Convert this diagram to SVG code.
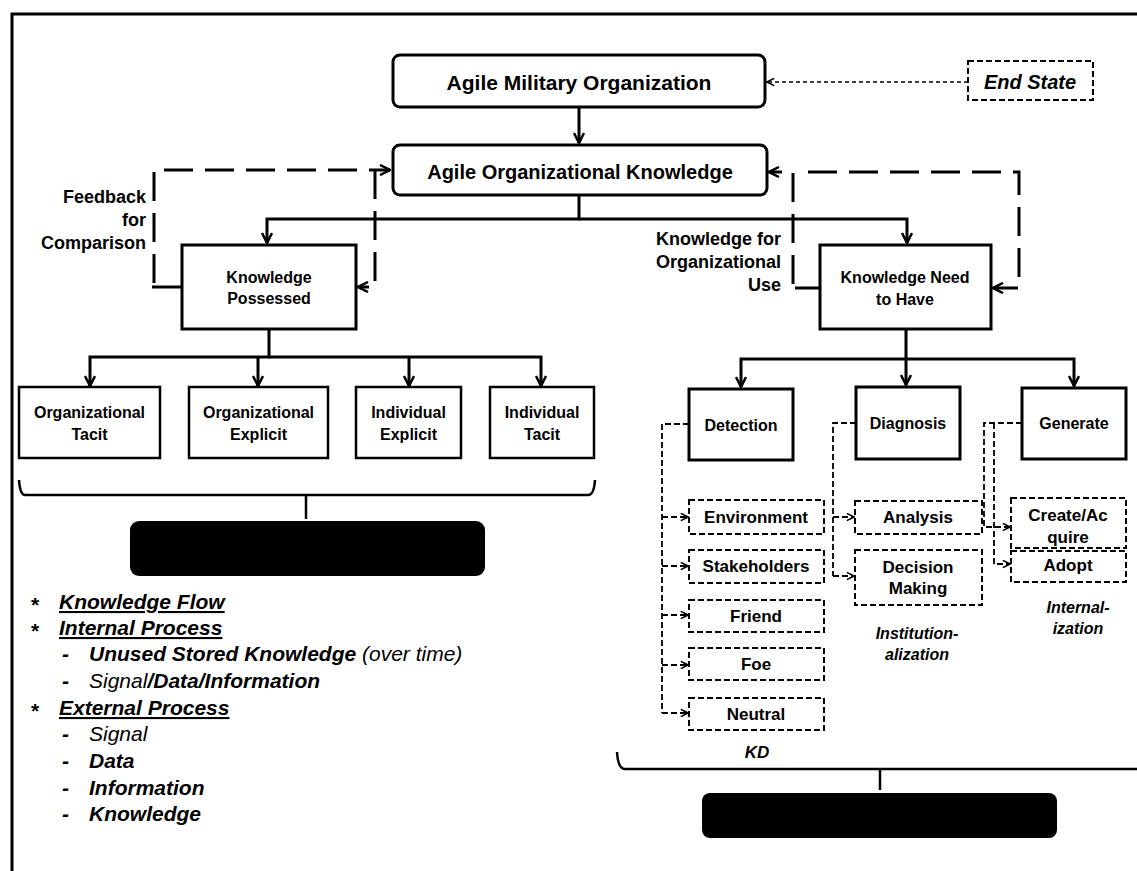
<svg xmlns="http://www.w3.org/2000/svg" width="1137" height="871" viewBox="0 0 1137 871">
<style>
text{font-family:"Liberation Sans",Arial,sans-serif;fill:#000}
.t{font-weight:bold;text-anchor:middle}
.h{font-size:21px;font-weight:bold}
.m{font-size:16px}
.s{font-size:17px}
.box{fill:#fff;stroke:#000;stroke-width:3}
.box2{fill:#fff;stroke:#000;stroke-width:2.5}
.dbox{fill:#fff;stroke:#000;stroke-width:2;stroke-dasharray:6 3}
.c{fill:none;stroke:#000;stroke-width:3}
.cd{fill:none;stroke:#000;stroke-width:3;stroke-dasharray:29 12}
.cs{fill:none;stroke:#000;stroke-width:1.8;stroke-dasharray:6 3}
.lab{font-size:18px;font-weight:bold;text-anchor:end}
.it{font-style:italic;font-weight:bold;text-anchor:middle}
.lg{font-size:21px;font-style:italic}
</style>
<defs>
<marker id="ah" viewBox="0 0 12 12" refX="11" refY="6" markerWidth="12" markerHeight="12" markerUnits="userSpaceOnUse" orient="auto"><path d="M1,1 L11,6 L1,11" fill="none" stroke="#000" stroke-width="2.5"/></marker>
<marker id="as" viewBox="0 0 10 10" refX="9" refY="5" markerWidth="9" markerHeight="9" markerUnits="userSpaceOnUse" orient="auto"><path d="M1,1 L9,5 L1,9" fill="none" stroke="#000" stroke-width="1.8"/></marker>
</defs>
<rect width="1137" height="871" fill="#fff"/>
<path d="M12,871 V14 H1137" fill="none" stroke="#000" stroke-width="3"/>

<g id="connectors">
<path class="c" d="M579,107 V143" marker-end="url(#ah)"/>
<path class="c" d="M579,195 V219 H267 V243" marker-end="url(#ah)"/>
<path class="c" d="M579,219 H907 V243" marker-end="url(#ah)"/>
<path class="c" d="M269,330 V357 H90 V386" marker-end="url(#ah)"/>
<path class="c" d="M269,357 H541 V386" marker-end="url(#ah)"/>
<path class="c" d="M258,357 V386" marker-end="url(#ah)"/>
<path class="c" d="M409,357 V386" marker-end="url(#ah)"/>
<path class="c" d="M906,328 V359 H741 V387" marker-end="url(#ah)"/>
<path class="c" d="M906,359 H1074 V386" marker-end="url(#ah)"/>
<path class="c" d="M906,359 V385" marker-end="url(#ah)"/>
<path fill="none" stroke="#000" stroke-width="1.5" stroke-dasharray="4 3" d="M968,82 H767" marker-end="url(#as)"/>
<path class="cd" d="M154,283 V170 H390" marker-end="url(#ah)"/>
<path class="c" stroke-width="2" d="M152,287 H182"/>
<path class="cd" d="M375,170 V287 H358" marker-end="url(#ah)"/>
<path class="cd" d="M793,284 V172 H769" marker-end="url(#ah)"/>
<path class="c" stroke-width="2" d="M795,288 H820"/>
<path class="cd" d="M808,172 H1019 V288 H993" marker-end="url(#ah)"/>
<path class="cs" d="M689,424 H662 V713"/>
<path class="cs" d="M662,517 H688" marker-end="url(#as)"/>
<path class="cs" d="M662,566 H688" marker-end="url(#as)"/>
<path class="cs" d="M662,615 H688" marker-end="url(#as)"/>
<path class="cs" d="M662,665 H688" marker-end="url(#as)"/>
<path class="cs" d="M662,713 H688" marker-end="url(#as)"/>
<path class="cs" d="M856,423 H833 V576"/>
<path class="cs" d="M833,517 H854" marker-end="url(#as)"/>
<path class="cs" d="M833,576 H854" marker-end="url(#as)"/>
<path class="cs" d="M1022,423 H984 V527 H1010" marker-end="url(#as)"/>
<path class="cs" d="M994,423 V564 H1010" marker-end="url(#as)"/>
<path fill="none" stroke="#000" stroke-width="2.5" d="M19,480 Q20,495 25,495 H588 Q594,495 595,480 M306,495 V519"/>
<path fill="none" stroke="#000" stroke-width="2.5" d="M617,752 Q618,769 625,769 H1137 M880,769 V790"/>
</g>

<g id="n-military"><rect class="box" x="393" y="55" width="372" height="52" rx="7"/><text class="t" x="579" y="90" font-size="21">Agile Military Organization</text></g>
<g id="n-endstate"><rect x="968" y="61" width="125" height="39" fill="#fff" stroke="#000" stroke-width="2" stroke-dasharray="6 3"/><text class="it" x="1030" y="89" font-size="20">End State</text></g>
<g id="n-aok"><rect class="box" x="393" y="145" width="374" height="50" rx="7"/><text class="t" x="580" y="179" font-size="20">Agile Organizational Knowledge</text></g>
<g id="l-feedback"><text class="lab" x="146" y="203">Feedback</text><text class="lab" x="146" y="226">for</text><text class="lab" x="146" y="249">Comparison</text></g>
<g id="l-kfou"><text class="lab" x="781" y="245">Knowledge for</text><text class="lab" x="781" y="268">Organizational</text><text class="lab" x="781" y="291">Use</text></g>
<g id="n-kp"><rect class="box" x="182" y="245" width="174" height="84"/><text class="t m" x="269" y="283">Knowledge</text><text class="t m" x="269" y="304">Possessed</text></g>
<g id="n-knh"><rect class="box" x="820" y="245" width="171" height="84"/><text class="t m" x="905" y="283">Knowledge Need</text><text class="t m" x="905" y="305">to Have</text></g>
<g id="n-ot"><rect class="box2" x="19" y="387" width="141" height="71"/><text class="t m" x="89.5" y="418">Organizational</text><text class="t m" x="89.5" y="440">Tacit</text></g>
<g id="n-oe"><rect class="box2" x="189" y="387" width="139" height="71"/><text class="t m" x="258.5" y="418">Organizational</text><text class="t m" x="258.5" y="440">Explicit</text></g>
<g id="n-ie"><rect class="box2" x="356" y="387" width="105" height="71"/><text class="t m" x="408.5" y="418">Individual</text><text class="t m" x="408.5" y="440">Explicit</text></g>
<g id="n-it"><rect class="box2" x="490" y="387" width="104" height="71"/><text class="t m" x="542" y="418">Individual</text><text class="t m" x="542" y="440">Tacit</text></g>
<g id="n-black1"><rect x="130" y="521" width="355" height="55" rx="9" fill="#000"/></g>
<g id="n-detection"><rect class="box" x="689" y="389" width="104" height="71"/><text class="t m" x="741" y="431">Detection</text></g>
<g id="n-diagnosis"><rect class="box" x="856" y="387" width="104" height="72"/><text class="t m" x="908" y="429">Diagnosis</text></g>
<g id="n-generate"><rect class="box" x="1022" y="388" width="104" height="71"/><text class="t m" x="1074" y="429">Generate</text></g>
<g id="n-env"><rect class="dbox" x="689" y="500" width="135" height="34"/><text class="t s" x="756" y="523">Environment</text></g>
<g id="n-stake"><rect class="dbox" x="689" y="550" width="135" height="33"/><text class="t s" x="756" y="572">Stakeholders</text></g>
<g id="n-friend"><rect class="dbox" x="689" y="600" width="135" height="32"/><text class="t s" x="756" y="622">Friend</text></g>
<g id="n-foe"><rect class="dbox" x="689" y="648" width="135" height="32"/><text class="t s" x="756" y="670">Foe</text></g>
<g id="n-neutral"><rect class="dbox" x="689" y="698" width="135" height="32"/><text class="t s" x="756" y="720">Neutral</text></g>
<g id="n-analysis"><rect class="dbox" x="855" y="501" width="127" height="33"/><text class="t s" x="918" y="523">Analysis</text></g>
<g id="n-decision"><rect class="dbox" x="855" y="550" width="127" height="55"/><text class="t s" x="918" y="573">Decision</text><text class="t s" x="918" y="594">Making</text></g>
<g id="n-create"><rect class="dbox" x="1011" y="498" width="115" height="50"/><text class="t s" x="1068" y="521">Create/Ac</text><text class="t s" x="1068" y="543">quire</text></g>
<g id="n-adopt"><rect class="dbox" x="1011" y="551" width="115" height="31"/><text class="t s" x="1068" y="571">Adopt</text></g>
<g id="l-kd"><text class="it" x="757" y="758" font-size="17">KD</text></g>
<g id="l-inst"><text class="it" x="917" y="639" font-size="16">Institution-</text><text class="it" x="917" y="660" font-size="16">alization</text></g>
<g id="l-intern"><text class="it" x="1078" y="613" font-size="16">Internal-</text><text class="it" x="1078" y="634" font-size="16">ization</text></g>
<g id="n-black2"><rect x="702" y="793" width="355" height="45" rx="8" fill="#000"/></g>

<g id="legend">
<text class="h" x="31" y="612">*</text>
<text class="lg" x="59" y="609" font-weight="bold" text-decoration="underline">Knowledge Flow</text>
<text class="h" x="31" y="638">*</text>
<text class="lg" x="59" y="635" font-weight="bold" text-decoration="underline">Internal Process</text>
<text class="lg" x="62" y="661" font-weight="bold">-</text>
<text class="lg" x="89" y="661"><tspan font-weight="bold">Unused Stored Knowledge</tspan> (over time)</text>
<text class="lg" x="62" y="688" font-weight="bold">-</text>
<text class="lg" x="89" y="688">Signal<tspan font-weight="bold">/Data/Information</tspan></text>
<text class="h" x="31" y="718">*</text>
<text class="lg" x="59" y="715" font-weight="bold" text-decoration="underline">External Process</text>
<text class="lg" x="62" y="741" font-weight="bold">-</text>
<text class="lg" x="89" y="741">Signal</text>
<text class="lg" x="62" y="768" font-weight="bold">-</text>
<text class="lg" x="89" y="768" font-weight="bold">Data</text>
<text class="lg" x="62" y="795" font-weight="bold">-</text>
<text class="lg" x="89" y="795" font-weight="bold">Information</text>
<text class="lg" x="62" y="821" font-weight="bold">-</text>
<text class="lg" x="89" y="821" font-weight="bold">Knowledge</text>
</g>
</svg>
